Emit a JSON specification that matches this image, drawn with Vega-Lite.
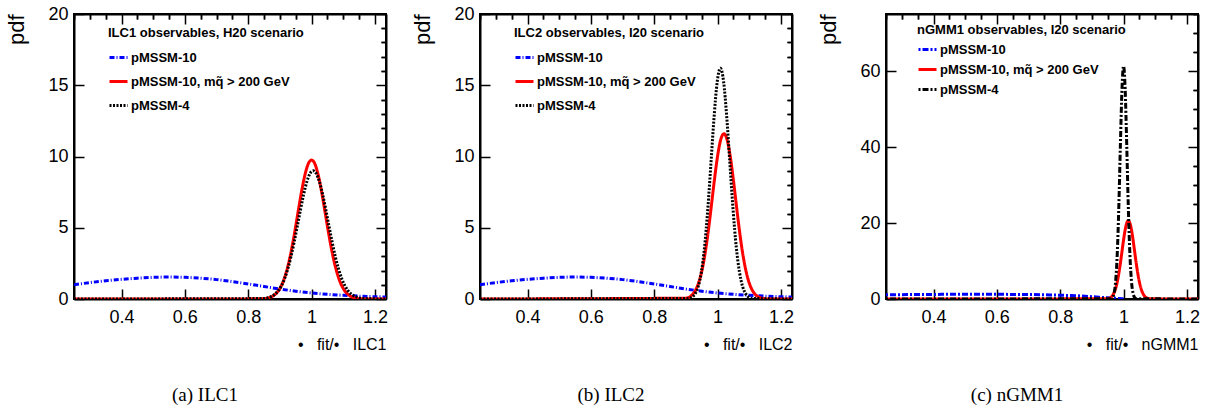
{
  "$schema": "https://vega.github.io/schema/vega-lite/v6.json",
  "background": "white",
  "padding": {"left": 4, "top": 4, "right": 0, "bottom": 0},
  "spacing": 94,
  "bounds": "flush",
  "config": {
    "view": {"stroke": "black", "strokeWidth": 2},
    "axis": {"domain": false, "grid": false, "tickColor": "black", "tickWidth": 1.5, "domainColor": "black", "domainWidth": 2, "labelColor": "black", "titleColor": "black", "labelFont": "Liberation Sans", "titleFont": "Liberation Sans"},
    "legend": {"labelFont": "Liberation Sans", "titleFont": "Liberation Sans", "labelColor": "black", "titleColor": "black"}
  },
  "datasets": {
    "ilc1": [
      {"model": "pMSSM-10", "x": 0.25, "pdf": 1.0}, {"model": "pMSSM-10", "x": 0.3, "pdf": 1.15}, {"model": "pMSSM-10", "x": 0.35, "pdf": 1.28}, {"model": "pMSSM-10", "x": 0.4, "pdf": 1.38}, {"model": "pMSSM-10", "x": 0.45, "pdf": 1.46}, {"model": "pMSSM-10", "x": 0.5, "pdf": 1.52}, {"model": "pMSSM-10", "x": 0.55, "pdf": 1.54}, {"model": "pMSSM-10", "x": 0.6, "pdf": 1.52}, {"model": "pMSSM-10", "x": 0.65, "pdf": 1.46}, {"model": "pMSSM-10", "x": 0.7, "pdf": 1.36}, {"model": "pMSSM-10", "x": 0.75, "pdf": 1.22}, {"model": "pMSSM-10", "x": 0.8, "pdf": 1.06}, {"model": "pMSSM-10", "x": 0.85, "pdf": 0.88}, {"model": "pMSSM-10", "x": 0.9, "pdf": 0.7}, {"model": "pMSSM-10", "x": 0.95, "pdf": 0.55}, {"model": "pMSSM-10", "x": 1.0, "pdf": 0.42}, {"model": "pMSSM-10", "x": 1.05, "pdf": 0.33}, {"model": "pMSSM-10", "x": 1.1, "pdf": 0.26}, {"model": "pMSSM-10", "x": 1.15, "pdf": 0.2}, {"model": "pMSSM-10", "x": 1.2, "pdf": 0.16}, {"model": "pMSSM-10", "x": 1.235, "pdf": 0.14},
      {"model": "pMSSM-10, mq̃ > 200 GeV", "x": 0.25, "pdf": 0}, {"model": "pMSSM-10, mq̃ > 200 GeV", "x": 0.84, "pdf": 0.01}, {"model": "pMSSM-10, mq̃ > 200 GeV", "x": 0.86, "pdf": 0.06}, {"model": "pMSSM-10, mq̃ > 200 GeV", "x": 0.88, "pdf": 0.24}, {"model": "pMSSM-10, mq̃ > 200 GeV", "x": 0.89, "pdf": 0.43}, {"model": "pMSSM-10, mq̃ > 200 GeV", "x": 0.9, "pdf": 0.74}, {"model": "pMSSM-10, mq̃ > 200 GeV", "x": 0.91, "pdf": 1.2}, {"model": "pMSSM-10, mq̃ > 200 GeV", "x": 0.92, "pdf": 1.87}, {"model": "pMSSM-10, mq̃ > 200 GeV", "x": 0.93, "pdf": 2.75}, {"model": "pMSSM-10, mq̃ > 200 GeV", "x": 0.94, "pdf": 3.85}, {"model": "pMSSM-10, mq̃ > 200 GeV", "x": 0.95, "pdf": 5.11}, {"model": "pMSSM-10, mq̃ > 200 GeV", "x": 0.96, "pdf": 6.45}, {"model": "pMSSM-10, mq̃ > 200 GeV", "x": 0.97, "pdf": 7.73}, {"model": "pMSSM-10, mq̃ > 200 GeV", "x": 0.98, "pdf": 8.79}, {"model": "pMSSM-10, mq̃ > 200 GeV", "x": 0.99, "pdf": 9.51}, {"model": "pMSSM-10, mq̃ > 200 GeV", "x": 1.0, "pdf": 9.75}, {"model": "pMSSM-10, mq̃ > 200 GeV", "x": 1.01, "pdf": 9.51}, {"model": "pMSSM-10, mq̃ > 200 GeV", "x": 1.02, "pdf": 8.79}, {"model": "pMSSM-10, mq̃ > 200 GeV", "x": 1.03, "pdf": 7.73}, {"model": "pMSSM-10, mq̃ > 200 GeV", "x": 1.04, "pdf": 6.45}, {"model": "pMSSM-10, mq̃ > 200 GeV", "x": 1.05, "pdf": 5.11}, {"model": "pMSSM-10, mq̃ > 200 GeV", "x": 1.06, "pdf": 3.85}, {"model": "pMSSM-10, mq̃ > 200 GeV", "x": 1.07, "pdf": 2.75}, {"model": "pMSSM-10, mq̃ > 200 GeV", "x": 1.08, "pdf": 1.87}, {"model": "pMSSM-10, mq̃ > 200 GeV", "x": 1.09, "pdf": 1.2}, {"model": "pMSSM-10, mq̃ > 200 GeV", "x": 1.1, "pdf": 0.74}, {"model": "pMSSM-10, mq̃ > 200 GeV", "x": 1.11, "pdf": 0.43}, {"model": "pMSSM-10, mq̃ > 200 GeV", "x": 1.12, "pdf": 0.24}, {"model": "pMSSM-10, mq̃ > 200 GeV", "x": 1.14, "pdf": 0.06}, {"model": "pMSSM-10, mq̃ > 200 GeV", "x": 1.16, "pdf": 0.01}, {"model": "pMSSM-10, mq̃ > 200 GeV", "x": 1.235, "pdf": 0},
      {"model": "pMSSM-4", "x": 0.25, "pdf": 0}, {"model": "pMSSM-4", "x": 0.845, "pdf": 0.03}, {"model": "pMSSM-4", "x": 0.865, "pdf": 0.11}, {"model": "pMSSM-4", "x": 0.885, "pdf": 0.35}, {"model": "pMSSM-4", "x": 0.895, "pdf": 0.58}, {"model": "pMSSM-4", "x": 0.905, "pdf": 0.94}, {"model": "pMSSM-4", "x": 0.915, "pdf": 1.44}, {"model": "pMSSM-4", "x": 0.925, "pdf": 2.12}, {"model": "pMSSM-4", "x": 0.935, "pdf": 2.97}, {"model": "pMSSM-4", "x": 0.945, "pdf": 3.99}, {"model": "pMSSM-4", "x": 0.955, "pdf": 5.11}, {"model": "pMSSM-4", "x": 0.965, "pdf": 6.26}, {"model": "pMSSM-4", "x": 0.975, "pdf": 7.34}, {"model": "pMSSM-4", "x": 0.985, "pdf": 8.22}, {"model": "pMSSM-4", "x": 0.995, "pdf": 8.8}, {"model": "pMSSM-4", "x": 1.005, "pdf": 9.0}, {"model": "pMSSM-4", "x": 1.015, "pdf": 8.8}, {"model": "pMSSM-4", "x": 1.025, "pdf": 8.22}, {"model": "pMSSM-4", "x": 1.035, "pdf": 7.34}, {"model": "pMSSM-4", "x": 1.045, "pdf": 6.26}, {"model": "pMSSM-4", "x": 1.055, "pdf": 5.11}, {"model": "pMSSM-4", "x": 1.065, "pdf": 3.99}, {"model": "pMSSM-4", "x": 1.075, "pdf": 2.97}, {"model": "pMSSM-4", "x": 1.085, "pdf": 2.12}, {"model": "pMSSM-4", "x": 1.095, "pdf": 1.44}, {"model": "pMSSM-4", "x": 1.105, "pdf": 0.94}, {"model": "pMSSM-4", "x": 1.115, "pdf": 0.58}, {"model": "pMSSM-4", "x": 1.125, "pdf": 0.35}, {"model": "pMSSM-4", "x": 1.145, "pdf": 0.11}, {"model": "pMSSM-4", "x": 1.165, "pdf": 0.03}, {"model": "pMSSM-4", "x": 1.235, "pdf": 0}
    ],
    "ilc2": [
      {"model": "pMSSM-10", "x": 0.25, "pdf": 1.0}, {"model": "pMSSM-10", "x": 0.3, "pdf": 1.15}, {"model": "pMSSM-10", "x": 0.35, "pdf": 1.28}, {"model": "pMSSM-10", "x": 0.4, "pdf": 1.38}, {"model": "pMSSM-10", "x": 0.45, "pdf": 1.46}, {"model": "pMSSM-10", "x": 0.5, "pdf": 1.52}, {"model": "pMSSM-10", "x": 0.55, "pdf": 1.54}, {"model": "pMSSM-10", "x": 0.6, "pdf": 1.52}, {"model": "pMSSM-10", "x": 0.65, "pdf": 1.46}, {"model": "pMSSM-10", "x": 0.7, "pdf": 1.36}, {"model": "pMSSM-10", "x": 0.75, "pdf": 1.22}, {"model": "pMSSM-10", "x": 0.8, "pdf": 1.06}, {"model": "pMSSM-10", "x": 0.85, "pdf": 0.88}, {"model": "pMSSM-10", "x": 0.9, "pdf": 0.7}, {"model": "pMSSM-10", "x": 0.95, "pdf": 0.55}, {"model": "pMSSM-10", "x": 1.0, "pdf": 0.42}, {"model": "pMSSM-10", "x": 1.05, "pdf": 0.33}, {"model": "pMSSM-10", "x": 1.1, "pdf": 0.26}, {"model": "pMSSM-10", "x": 1.15, "pdf": 0.2}, {"model": "pMSSM-10", "x": 1.2, "pdf": 0.16}, {"model": "pMSSM-10", "x": 1.235, "pdf": 0.14},
      {"model": "pMSSM-10, mq̃ > 200 GeV", "x": 0.25, "pdf": 0}, {"model": "pMSSM-10, mq̃ > 200 GeV", "x": 0.9, "pdf": 0.06}, {"model": "pMSSM-10, mq̃ > 200 GeV", "x": 0.92, "pdf": 0.3}, {"model": "pMSSM-10, mq̃ > 200 GeV", "x": 0.93, "pdf": 0.6}, {"model": "pMSSM-10, mq̃ > 200 GeV", "x": 0.94, "pdf": 1.12}, {"model": "pMSSM-10, mq̃ > 200 GeV", "x": 0.95, "pdf": 1.94}, {"model": "pMSSM-10, mq̃ > 200 GeV", "x": 0.96, "pdf": 3.11}, {"model": "pMSSM-10, mq̃ > 200 GeV", "x": 0.97, "pdf": 4.65}, {"model": "pMSSM-10, mq̃ > 200 GeV", "x": 0.98, "pdf": 6.46}, {"model": "pMSSM-10, mq̃ > 200 GeV", "x": 0.99, "pdf": 8.35}, {"model": "pMSSM-10, mq̃ > 200 GeV", "x": 1.0, "pdf": 10.02}, {"model": "pMSSM-10, mq̃ > 200 GeV", "x": 1.01, "pdf": 11.18}, {"model": "pMSSM-10, mq̃ > 200 GeV", "x": 1.02, "pdf": 11.6}, {"model": "pMSSM-10, mq̃ > 200 GeV", "x": 1.03, "pdf": 11.18}, {"model": "pMSSM-10, mq̃ > 200 GeV", "x": 1.04, "pdf": 10.02}, {"model": "pMSSM-10, mq̃ > 200 GeV", "x": 1.05, "pdf": 8.35}, {"model": "pMSSM-10, mq̃ > 200 GeV", "x": 1.06, "pdf": 6.46}, {"model": "pMSSM-10, mq̃ > 200 GeV", "x": 1.07, "pdf": 4.65}, {"model": "pMSSM-10, mq̃ > 200 GeV", "x": 1.08, "pdf": 3.11}, {"model": "pMSSM-10, mq̃ > 200 GeV", "x": 1.09, "pdf": 1.94}, {"model": "pMSSM-10, mq̃ > 200 GeV", "x": 1.1, "pdf": 1.12}, {"model": "pMSSM-10, mq̃ > 200 GeV", "x": 1.11, "pdf": 0.6}, {"model": "pMSSM-10, mq̃ > 200 GeV", "x": 1.12, "pdf": 0.3}, {"model": "pMSSM-10, mq̃ > 200 GeV", "x": 1.14, "pdf": 0.06}, {"model": "pMSSM-10, mq̃ > 200 GeV", "x": 1.16, "pdf": 0}, {"model": "pMSSM-10, mq̃ > 200 GeV", "x": 1.235, "pdf": 0},
      {"model": "pMSSM-4", "x": 0.25, "pdf": 0}, {"model": "pMSSM-4", "x": 0.909, "pdf": 0.04}, {"model": "pMSSM-4", "x": 0.919, "pdf": 0.13}, {"model": "pMSSM-4", "x": 0.929, "pdf": 0.36}, {"model": "pMSSM-4", "x": 0.939, "pdf": 0.88}, {"model": "pMSSM-4", "x": 0.949, "pdf": 1.91}, {"model": "pMSSM-4", "x": 0.959, "pdf": 3.66}, {"model": "pMSSM-4", "x": 0.969, "pdf": 6.25}, {"model": "pMSSM-4", "x": 0.979, "pdf": 9.49}, {"model": "pMSSM-4", "x": 0.989, "pdf": 12.77}, {"model": "pMSSM-4", "x": 0.999, "pdf": 15.26}, {"model": "pMSSM-4", "x": 1.009, "pdf": 16.2}, {"model": "pMSSM-4", "x": 1.019, "pdf": 15.26}, {"model": "pMSSM-4", "x": 1.029, "pdf": 12.77}, {"model": "pMSSM-4", "x": 1.039, "pdf": 9.49}, {"model": "pMSSM-4", "x": 1.049, "pdf": 6.25}, {"model": "pMSSM-4", "x": 1.059, "pdf": 3.66}, {"model": "pMSSM-4", "x": 1.069, "pdf": 1.91}, {"model": "pMSSM-4", "x": 1.079, "pdf": 0.88}, {"model": "pMSSM-4", "x": 1.089, "pdf": 0.36}, {"model": "pMSSM-4", "x": 1.099, "pdf": 0.13}, {"model": "pMSSM-4", "x": 1.109, "pdf": 0.04}, {"model": "pMSSM-4", "x": 1.235, "pdf": 0}
    ],
    "ngmm1": [
      {"model": "pMSSM-10", "x": 0.25, "pdf": 1.1}, {"model": "pMSSM-10", "x": 0.3, "pdf": 1.15}, {"model": "pMSSM-10", "x": 0.35, "pdf": 1.2}, {"model": "pMSSM-10", "x": 0.4, "pdf": 1.2}, {"model": "pMSSM-10", "x": 0.45, "pdf": 1.25}, {"model": "pMSSM-10", "x": 0.5, "pdf": 1.25}, {"model": "pMSSM-10", "x": 0.55, "pdf": 1.25}, {"model": "pMSSM-10", "x": 0.6, "pdf": 1.25}, {"model": "pMSSM-10", "x": 0.65, "pdf": 1.2}, {"model": "pMSSM-10", "x": 0.7, "pdf": 1.2}, {"model": "pMSSM-10", "x": 0.75, "pdf": 1.1}, {"model": "pMSSM-10", "x": 0.8, "pdf": 1.0}, {"model": "pMSSM-10", "x": 0.85, "pdf": 0.85}, {"model": "pMSSM-10", "x": 0.9, "pdf": 0.6}, {"model": "pMSSM-10", "x": 0.95, "pdf": 0.3}, {"model": "pMSSM-10", "x": 1.0, "pdf": 0.05},
      {"model": "pMSSM-10, mq̃ > 200 GeV", "x": 0.25, "pdf": 0}, {"model": "pMSSM-10, mq̃ > 200 GeV", "x": 0.945, "pdf": 0.05}, {"model": "pMSSM-10, mq̃ > 200 GeV", "x": 0.955, "pdf": 0.23}, {"model": "pMSSM-10, mq̃ > 200 GeV", "x": 0.965, "pdf": 0.9}, {"model": "pMSSM-10, mq̃ > 200 GeV", "x": 0.975, "pdf": 2.79}, {"model": "pMSSM-10, mq̃ > 200 GeV", "x": 0.98, "pdf": 4.46}, {"model": "pMSSM-10, mq̃ > 200 GeV", "x": 0.985, "pdf": 6.69}, {"model": "pMSSM-10, mq̃ > 200 GeV", "x": 0.99, "pdf": 9.43}, {"model": "pMSSM-10, mq̃ > 200 GeV", "x": 0.995, "pdf": 12.49}, {"model": "pMSSM-10, mq̃ > 200 GeV", "x": 1.0, "pdf": 15.55}, {"model": "pMSSM-10, mq̃ > 200 GeV", "x": 1.005, "pdf": 18.18}, {"model": "pMSSM-10, mq̃ > 200 GeV", "x": 1.01, "pdf": 19.96}, {"model": "pMSSM-10, mq̃ > 200 GeV", "x": 1.015, "pdf": 20.6}, {"model": "pMSSM-10, mq̃ > 200 GeV", "x": 1.02, "pdf": 19.96}, {"model": "pMSSM-10, mq̃ > 200 GeV", "x": 1.025, "pdf": 18.18}, {"model": "pMSSM-10, mq̃ > 200 GeV", "x": 1.03, "pdf": 15.55}, {"model": "pMSSM-10, mq̃ > 200 GeV", "x": 1.035, "pdf": 12.49}, {"model": "pMSSM-10, mq̃ > 200 GeV", "x": 1.04, "pdf": 9.43}, {"model": "pMSSM-10, mq̃ > 200 GeV", "x": 1.045, "pdf": 6.69}, {"model": "pMSSM-10, mq̃ > 200 GeV", "x": 1.05, "pdf": 4.46}, {"model": "pMSSM-10, mq̃ > 200 GeV", "x": 1.055, "pdf": 2.79}, {"model": "pMSSM-10, mq̃ > 200 GeV", "x": 1.065, "pdf": 0.9}, {"model": "pMSSM-10, mq̃ > 200 GeV", "x": 1.075, "pdf": 0.23}, {"model": "pMSSM-10, mq̃ > 200 GeV", "x": 1.085, "pdf": 0.05}, {"model": "pMSSM-10, mq̃ > 200 GeV", "x": 1.235, "pdf": 0},
      {"model": "pMSSM-4", "x": 0.25, "pdf": 0}, {"model": "pMSSM-4", "x": 0.96, "pdf": 0.08}, {"model": "pMSSM-4", "x": 0.965, "pdf": 0.39}, {"model": "pMSSM-4", "x": 0.97, "pdf": 1.49}, {"model": "pMSSM-4", "x": 0.975, "pdf": 4.63}, {"model": "pMSSM-4", "x": 0.98, "pdf": 11.74}, {"model": "pMSSM-4", "x": 0.985, "pdf": 24.19}, {"model": "pMSSM-4", "x": 0.99, "pdf": 40.55}, {"model": "pMSSM-4", "x": 0.995, "pdf": 55.28}, {"model": "pMSSM-4", "x": 1.0, "pdf": 61.3}, {"model": "pMSSM-4", "x": 1.005, "pdf": 55.28}, {"model": "pMSSM-4", "x": 1.01, "pdf": 40.55}, {"model": "pMSSM-4", "x": 1.015, "pdf": 24.19}, {"model": "pMSSM-4", "x": 1.02, "pdf": 11.74}, {"model": "pMSSM-4", "x": 1.025, "pdf": 4.63}, {"model": "pMSSM-4", "x": 1.03, "pdf": 1.49}, {"model": "pMSSM-4", "x": 1.035, "pdf": 0.39}, {"model": "pMSSM-4", "x": 1.04, "pdf": 0.08}, {"model": "pMSSM-4", "x": 1.235, "pdf": 0}
    ]
  },
  "resolve": {"scale": {"color": "independent", "strokeDash": "independent", "y": "independent", "x": "independent"}, "legend": {"color": "independent", "strokeDash": "independent"}},
  "hconcat": [
    {
      "width": 312, "height": 285,
      "data": {"name": "ilc1"},
      "title": {"text": "(a) ILC1", "orient": "bottom", "anchor": "middle", "font": "Liberation Serif", "fontSize": 19, "fontWeight": "normal", "color": "black", "dx": -25, "offset": 34},
      "resolve": {"axis": {"x": "independent", "y": "independent"}},
      "layer": [
        {
          "mark": {"type": "line", "strokeWidth": 3, "interpolate": "monotone", "clip": true},
          "encoding": {
            "x": {"field": "x", "type": "quantitative", "scale": {"domain": [0.25, 1.235], "nice": false, "zero": false},
                  "axis": {"values": [0.4, 0.6, 0.8, 1, 1.2], "format": "~g", "offset": -10, "tickSize": 10, "labelFontSize": 18, "labelPadding": 9, "title": "•\u00a0\u00a0\u00a0fit/•\u00a0\u00a0\u00a0ILC1", "titleFontSize": 16, "titleFontWeight": "normal", "titleAnchor": "end", "titlePadding": 10}},
            "y": {"field": "pdf", "type": "quantitative", "scale": {"domain": [0, 20], "nice": false},
                  "axis": {"values": [0, 5, 10, 15, 20], "offset": -10, "tickSize": 10, "labelFontSize": 18, "labelPadding": 6, "title": "pdf", "titleFontSize": 22, "titleFontWeight": "normal", "titleAlign": "right", "titleY": 0, "titlePadding": 19}},
            "color": {"field": "model", "type": "nominal", "scale": {"domain": ["pMSSM-10", "pMSSM-10, mq̃ > 200 GeV", "pMSSM-4"], "range": ["#0000ff", "#ff0000", "#000000"]},
                      "legend": {"title": "ILC1 observables, H20 scenario", "orient": "none", "legendX": 34, "legendY": 13, "symbolType": "stroke", "symbolSize": 324, "symbolStrokeWidth": 3, "labelFontSize": 13, "labelFontWeight": "bold", "titleFontSize": 13, "titleFontWeight": "bold", "rowPadding": 6, "titlePadding": 7, "labelOffset": 2, "labelLimit": 300, "titleLimit": 400}},
            "strokeDash": {"field": "model", "type": "nominal", "scale": {"domain": ["pMSSM-10", "pMSSM-10, mq̃ > 200 GeV", "pMSSM-4"], "range": [[5, 2, 1, 2], [1, 0], [2, 1.5]]},
                      "legend": {"title": "ILC1 observables, H20 scenario", "orient": "none", "legendX": 34, "legendY": 13, "symbolType": "stroke", "symbolSize": 324, "symbolStrokeWidth": 3, "labelFontSize": 13, "labelFontWeight": "bold", "titleFontSize": 13, "titleFontWeight": "bold", "rowPadding": 6, "titlePadding": 7, "labelOffset": 2, "labelLimit": 300, "titleLimit": 400}}
          }
        },
        {
          "mark": {"type": "line", "strokeOpacity": 0},
          "encoding": {
            "x": {"field": "x", "type": "quantitative", "axis": {"values": [0.25, 0.3, 0.35, 0.45, 0.5, 0.55, 0.65, 0.7, 0.75, 0.85, 0.9, 0.95, 1.05, 1.1, 1.15], "labels": false, "offset": -5, "tickSize": 5, "title": null}},
            "y": {"field": "pdf", "type": "quantitative", "axis": {"values": [1, 2, 3, 4, 6, 7, 8, 9, 11, 12, 13, 14, 16, 17, 18, 19], "labels": false, "offset": -5, "tickSize": 5, "title": null}}
          }
        },
        {
          "mark": {"type": "line", "strokeOpacity": 0},
          "encoding": {
            "x": {"field": "x", "type": "quantitative", "axis": {"orient": "top", "values": [0.4, 0.6, 0.8, 1, 1.2], "labels": false, "offset": -10, "tickSize": 10, "title": null}},
            "y": {"field": "pdf", "type": "quantitative", "axis": {"orient": "right", "values": [0, 5, 10, 15, 20], "labels": false, "offset": -10, "tickSize": 10, "title": null}}
          }
        },
        {
          "mark": {"type": "line", "strokeOpacity": 0},
          "encoding": {
            "x": {"field": "x", "type": "quantitative", "axis": {"orient": "top", "values": [0.25, 0.3, 0.35, 0.45, 0.5, 0.55, 0.65, 0.7, 0.75, 0.85, 0.9, 0.95, 1.05, 1.1, 1.15], "labels": false, "offset": -5, "tickSize": 5, "title": null}},
            "y": {"field": "pdf", "type": "quantitative", "axis": {"orient": "right", "values": [1, 2, 3, 4, 6, 7, 8, 9, 11, 12, 13, 14, 16, 17, 18, 19], "labels": false, "offset": -5, "tickSize": 5, "title": null}}
          }
        },
        {
          "mark": {"type": "line", "strokeOpacity": 0},
          "encoding": {
            "x": {"field": "x", "type": "quantitative", "axis": {"domain": true, "ticks": false, "labels": false, "title": null}},
            "y": {"field": "pdf", "type": "quantitative", "axis": {"domain": true, "ticks": false, "labels": false, "title": null}}
          }
        },
        {
          "mark": {"type": "line", "strokeOpacity": 0},
          "encoding": {
            "x": {"field": "x", "type": "quantitative", "axis": {"orient": "top", "domain": true, "ticks": false, "labels": false, "title": null}},
            "y": {"field": "pdf", "type": "quantitative", "axis": {"orient": "right", "domain": true, "ticks": false, "labels": false, "title": null}}
          }
        }
      ]
    },
    {
      "width": 312, "height": 285,
      "data": {"name": "ilc2"},
      "title": {"text": "(b) ILC2", "orient": "bottom", "anchor": "middle", "font": "Liberation Serif", "fontSize": 19, "fontWeight": "normal", "color": "black", "dx": -25, "offset": 34},
      "resolve": {"axis": {"x": "independent", "y": "independent"}},
      "layer": [
        {
          "mark": {"type": "line", "strokeWidth": 3, "interpolate": "monotone", "clip": true},
          "encoding": {
            "x": {"field": "x", "type": "quantitative", "scale": {"domain": [0.25, 1.235], "nice": false, "zero": false},
                  "axis": {"values": [0.4, 0.6, 0.8, 1, 1.2], "format": "~g", "offset": -10, "tickSize": 10, "labelFontSize": 18, "labelPadding": 9, "title": "•\u00a0\u00a0\u00a0fit/•\u00a0\u00a0\u00a0ILC2", "titleFontSize": 16, "titleFontWeight": "normal", "titleAnchor": "end", "titlePadding": 10}},
            "y": {"field": "pdf", "type": "quantitative", "scale": {"domain": [0, 20], "nice": false},
                  "axis": {"values": [0, 5, 10, 15, 20], "offset": -10, "tickSize": 10, "labelFontSize": 18, "labelPadding": 6, "title": "pdf", "titleFontSize": 22, "titleFontWeight": "normal", "titleAlign": "right", "titleY": 0, "titlePadding": 19}},
            "color": {"field": "model", "type": "nominal", "scale": {"domain": ["pMSSM-10", "pMSSM-10, mq̃ > 200 GeV", "pMSSM-4"], "range": ["#0000ff", "#ff0000", "#000000"]},
                      "legend": {"title": "ILC2 observables, I20 scenario", "orient": "none", "legendX": 34, "legendY": 13, "symbolType": "stroke", "symbolSize": 324, "symbolStrokeWidth": 3, "labelFontSize": 13, "labelFontWeight": "bold", "titleFontSize": 13, "titleFontWeight": "bold", "rowPadding": 6, "titlePadding": 7, "labelOffset": 2, "labelLimit": 300, "titleLimit": 400}},
            "strokeDash": {"field": "model", "type": "nominal", "scale": {"domain": ["pMSSM-10", "pMSSM-10, mq̃ > 200 GeV", "pMSSM-4"], "range": [[5, 2, 1, 2], [1, 0], [2, 1.5]]},
                      "legend": {"title": "ILC2 observables, I20 scenario", "orient": "none", "legendX": 34, "legendY": 13, "symbolType": "stroke", "symbolSize": 324, "symbolStrokeWidth": 3, "labelFontSize": 13, "labelFontWeight": "bold", "titleFontSize": 13, "titleFontWeight": "bold", "rowPadding": 6, "titlePadding": 7, "labelOffset": 2, "labelLimit": 300, "titleLimit": 400}}
          }
        },
        {
          "mark": {"type": "line", "strokeOpacity": 0},
          "encoding": {
            "x": {"field": "x", "type": "quantitative", "axis": {"values": [0.25, 0.3, 0.35, 0.45, 0.5, 0.55, 0.65, 0.7, 0.75, 0.85, 0.9, 0.95, 1.05, 1.1, 1.15], "labels": false, "offset": -5, "tickSize": 5, "title": null}},
            "y": {"field": "pdf", "type": "quantitative", "axis": {"values": [1, 2, 3, 4, 6, 7, 8, 9, 11, 12, 13, 14, 16, 17, 18, 19], "labels": false, "offset": -5, "tickSize": 5, "title": null}}
          }
        },
        {
          "mark": {"type": "line", "strokeOpacity": 0},
          "encoding": {
            "x": {"field": "x", "type": "quantitative", "axis": {"orient": "top", "values": [0.4, 0.6, 0.8, 1, 1.2], "labels": false, "offset": -10, "tickSize": 10, "title": null}},
            "y": {"field": "pdf", "type": "quantitative", "axis": {"orient": "right", "values": [0, 5, 10, 15, 20], "labels": false, "offset": -10, "tickSize": 10, "title": null}}
          }
        },
        {
          "mark": {"type": "line", "strokeOpacity": 0},
          "encoding": {
            "x": {"field": "x", "type": "quantitative", "axis": {"orient": "top", "values": [0.25, 0.3, 0.35, 0.45, 0.5, 0.55, 0.65, 0.7, 0.75, 0.85, 0.9, 0.95, 1.05, 1.1, 1.15], "labels": false, "offset": -5, "tickSize": 5, "title": null}},
            "y": {"field": "pdf", "type": "quantitative", "axis": {"orient": "right", "values": [1, 2, 3, 4, 6, 7, 8, 9, 11, 12, 13, 14, 16, 17, 18, 19], "labels": false, "offset": -5, "tickSize": 5, "title": null}}
          }
        },
        {
          "mark": {"type": "line", "strokeOpacity": 0},
          "encoding": {
            "x": {"field": "x", "type": "quantitative", "axis": {"domain": true, "ticks": false, "labels": false, "title": null}},
            "y": {"field": "pdf", "type": "quantitative", "axis": {"domain": true, "ticks": false, "labels": false, "title": null}}
          }
        },
        {
          "mark": {"type": "line", "strokeOpacity": 0},
          "encoding": {
            "x": {"field": "x", "type": "quantitative", "axis": {"orient": "top", "domain": true, "ticks": false, "labels": false, "title": null}},
            "y": {"field": "pdf", "type": "quantitative", "axis": {"orient": "right", "domain": true, "ticks": false, "labels": false, "title": null}}
          }
        }
      ]
    },
    {
      "width": 312, "height": 285,
      "data": {"name": "ngmm1"},
      "title": {"text": "(c) nGMM1", "orient": "bottom", "anchor": "middle", "font": "Liberation Serif", "fontSize": 19, "fontWeight": "normal", "color": "black", "dx": -25, "offset": 34},
      "resolve": {"axis": {"x": "independent", "y": "independent"}},
      "layer": [
        {
          "mark": {"type": "line", "strokeWidth": 3, "interpolate": "monotone", "clip": true},
          "encoding": {
            "x": {"field": "x", "type": "quantitative", "scale": {"domain": [0.25, 1.235], "nice": false, "zero": false},
                  "axis": {"values": [0.4, 0.6, 0.8, 1, 1.2], "format": "~g", "offset": -10, "tickSize": 10, "labelFontSize": 18, "labelPadding": 9, "title": "•\u00a0\u00a0\u00a0fit/•\u00a0\u00a0\u00a0nGMM1", "titleFontSize": 16, "titleFontWeight": "normal", "titleAnchor": "end", "titlePadding": 10}},
            "y": {"field": "pdf", "type": "quantitative", "scale": {"domain": [0, 75], "nice": false},
                  "axis": {"values": [0, 20, 40, 60], "offset": -10, "tickSize": 10, "labelFontSize": 18, "labelPadding": 6, "title": "pdf", "titleFontSize": 22, "titleFontWeight": "normal", "titleAlign": "right", "titleY": 0, "titlePadding": 19}},
            "color": {"field": "model", "type": "nominal", "scale": {"domain": ["pMSSM-10", "pMSSM-10, mq̃ > 200 GeV", "pMSSM-4"], "range": ["#0000ff", "#ff0000", "#000000"]},
                      "legend": {"title": "nGMM1 observables, I20 scenario", "orient": "none", "legendX": 31, "legendY": 10, "symbolType": "stroke", "symbolSize": 324, "symbolStrokeWidth": 3, "labelFontSize": 13, "labelFontWeight": "bold", "titleFontSize": 13, "titleFontWeight": "bold", "rowPadding": 2, "titlePadding": 2, "labelOffset": 2, "labelLimit": 300, "titleLimit": 400}},
            "strokeDash": {"field": "model", "type": "nominal", "scale": {"domain": ["pMSSM-10", "pMSSM-10, mq̃ > 200 GeV", "pMSSM-4"], "range": [[2, 2, 6, 2], [1, 0], [2, 2, 6, 2]]},
                      "legend": {"title": "nGMM1 observables, I20 scenario", "orient": "none", "legendX": 31, "legendY": 10, "symbolType": "stroke", "symbolSize": 324, "symbolStrokeWidth": 3, "labelFontSize": 13, "labelFontWeight": "bold", "titleFontSize": 13, "titleFontWeight": "bold", "rowPadding": 2, "titlePadding": 2, "labelOffset": 2, "labelLimit": 300, "titleLimit": 400}}
          }
        },
        {
          "mark": {"type": "line", "strokeOpacity": 0},
          "encoding": {
            "x": {"field": "x", "type": "quantitative", "axis": {"values": [0.25, 0.3, 0.35, 0.45, 0.5, 0.55, 0.65, 0.7, 0.75, 0.85, 0.9, 0.95, 1.05, 1.1, 1.15], "labels": false, "offset": -5, "tickSize": 5, "title": null}},
            "y": {"field": "pdf", "type": "quantitative", "axis": {"values": [5, 10, 15, 25, 30, 35, 45, 50, 55, 65, 70, 75], "labels": false, "offset": -5, "tickSize": 5, "title": null}}
          }
        },
        {
          "mark": {"type": "line", "strokeOpacity": 0},
          "encoding": {
            "x": {"field": "x", "type": "quantitative", "axis": {"orient": "top", "values": [0.4, 0.6, 0.8, 1, 1.2], "labels": false, "offset": -10, "tickSize": 10, "title": null}},
            "y": {"field": "pdf", "type": "quantitative", "axis": {"orient": "right", "values": [0, 20, 40, 60], "labels": false, "offset": -10, "tickSize": 10, "title": null}}
          }
        },
        {
          "mark": {"type": "line", "strokeOpacity": 0},
          "encoding": {
            "x": {"field": "x", "type": "quantitative", "axis": {"orient": "top", "values": [0.25, 0.3, 0.35, 0.45, 0.5, 0.55, 0.65, 0.7, 0.75, 0.85, 0.9, 0.95, 1.05, 1.1, 1.15], "labels": false, "offset": -5, "tickSize": 5, "title": null}},
            "y": {"field": "pdf", "type": "quantitative", "axis": {"orient": "right", "values": [5, 10, 15, 25, 30, 35, 45, 50, 55, 65, 70, 75], "labels": false, "offset": -5, "tickSize": 5, "title": null}}
          }
        },
        {
          "mark": {"type": "line", "strokeOpacity": 0},
          "encoding": {
            "x": {"field": "x", "type": "quantitative", "axis": {"domain": true, "ticks": false, "labels": false, "title": null}},
            "y": {"field": "pdf", "type": "quantitative", "axis": {"domain": true, "ticks": false, "labels": false, "title": null}}
          }
        },
        {
          "mark": {"type": "line", "strokeOpacity": 0},
          "encoding": {
            "x": {"field": "x", "type": "quantitative", "axis": {"orient": "top", "domain": true, "ticks": false, "labels": false, "title": null}},
            "y": {"field": "pdf", "type": "quantitative", "axis": {"orient": "right", "domain": true, "ticks": false, "labels": false, "title": null}}
          }
        }
      ]
    }
  ]
}
